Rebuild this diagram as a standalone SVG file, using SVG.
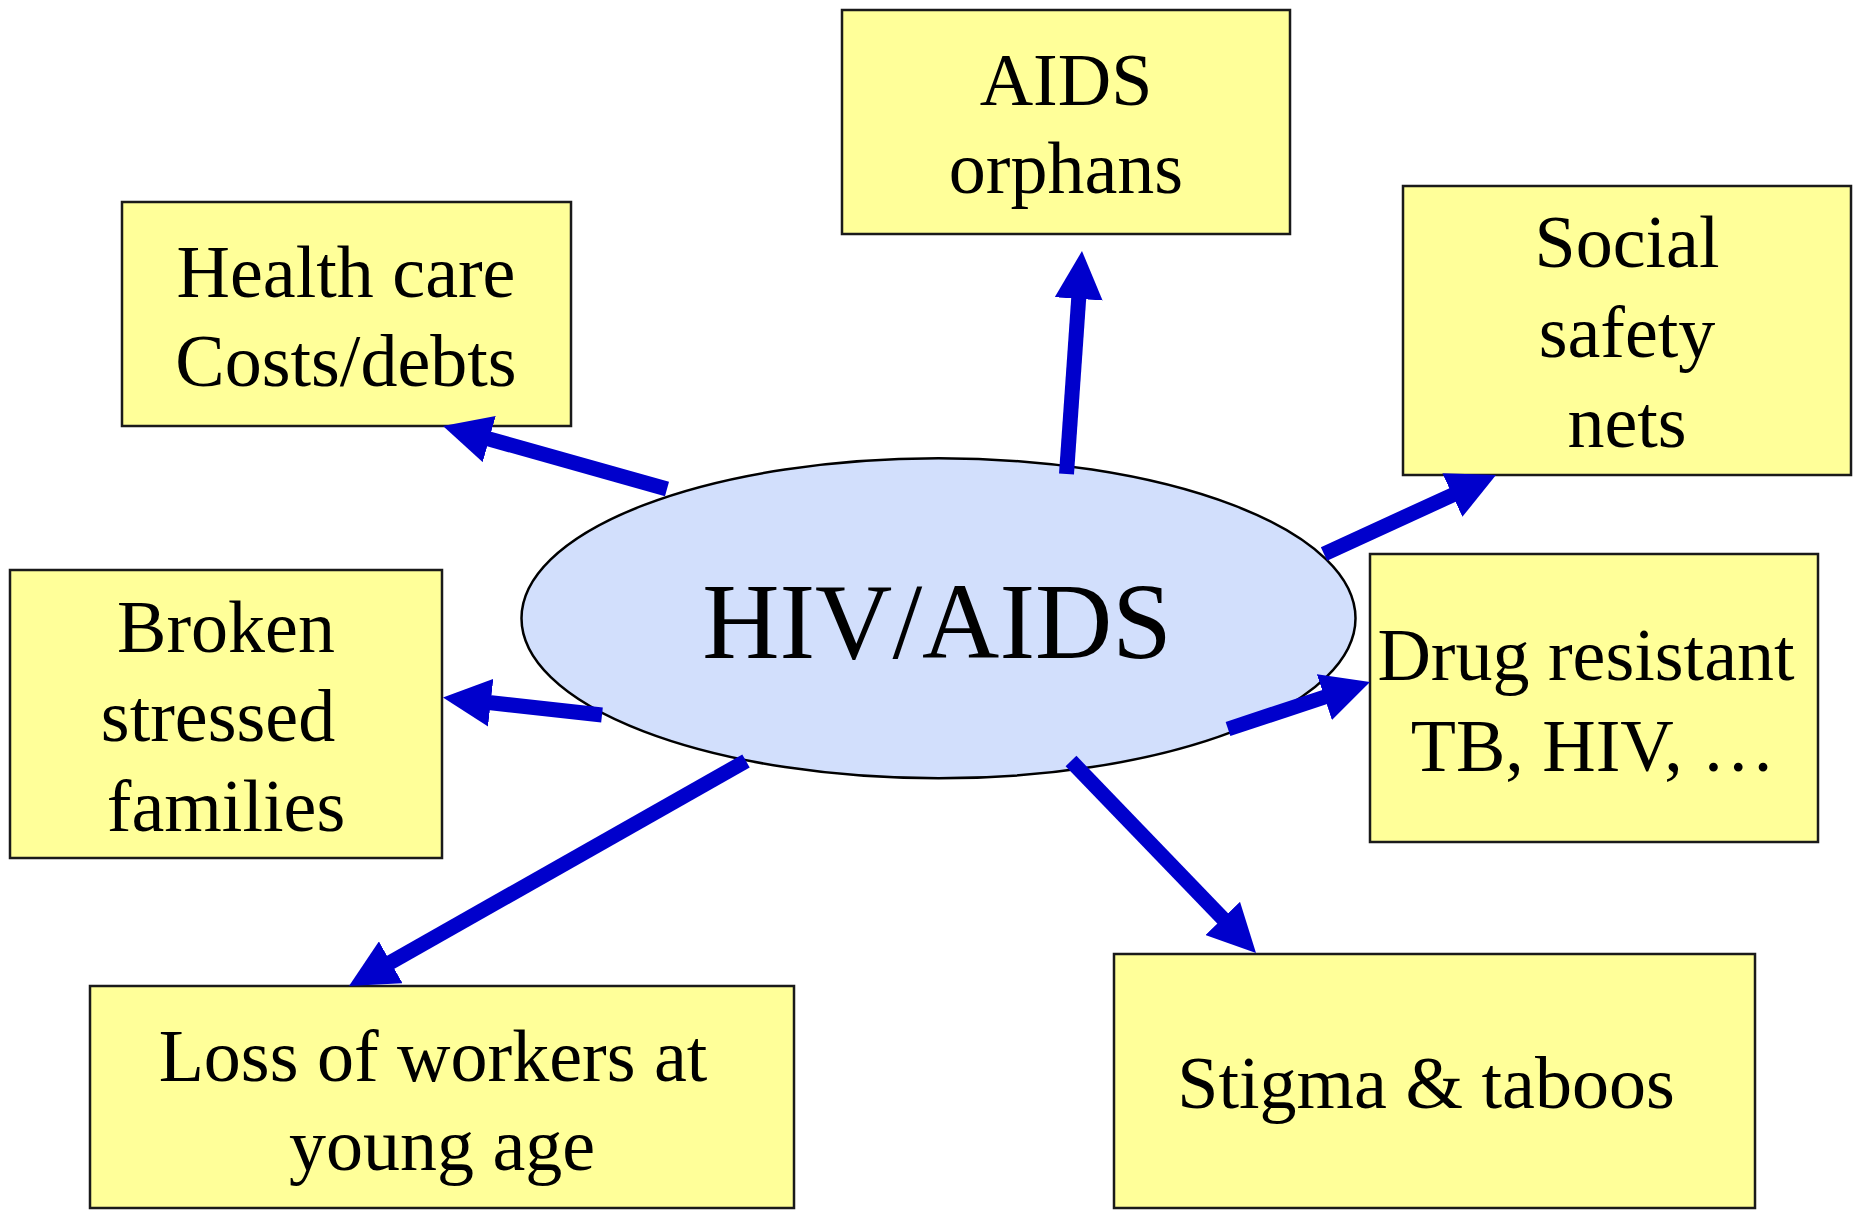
<svg xmlns="http://www.w3.org/2000/svg" width="1854" height="1210" viewBox="0 0 1854 1210">
<defs>
<marker id="ah" markerUnits="userSpaceOnUse" markerWidth="48" markerHeight="48" viewBox="0 0 48 48" refX="2" refY="24" orient="auto">
<path d="M0,0 L48,24 L0,48 z" fill="#0000CC"/>
</marker>
<style>
.box{fill:#FFFF99;stroke:#1a1a1a;stroke-width:2.5}
.t{font-family:"Liberation Serif","Times New Roman",serif;font-size:74px;fill:#000;text-anchor:middle}
.big{font-family:"Liberation Serif","Times New Roman",serif;font-size:107px;fill:#000;text-anchor:middle}
.arr{stroke:#0000CC;stroke-width:15;stroke-linecap:butt;fill:none;marker-end:url(#ah)}
</style>
</defs>
<rect width="1854" height="1210" fill="#fff"/>
<g id="orphans"><rect class="box" x="842" y="10" width="448" height="224"/><text class="t" x="1066" y="105">AIDS</text><text class="t" x="1066" y="193">orphans</text></g>
<g id="health"><rect class="box" x="122" y="202" width="449" height="224"/><text class="t" x="346" y="297">Health care</text><text class="t" x="346" y="386">Costs/debts</text></g>
<g id="social"><rect class="box" x="1403" y="186" width="448" height="289"/><text class="t" x="1627" y="267">Social</text><text class="t" x="1627" y="357">safety</text><text class="t" x="1627" y="447">nets</text></g>
<g id="broken"><rect class="box" x="10" y="570" width="432" height="288"/><text class="t" x="226" y="652">Broken</text><text class="t" x="218" y="741">stressed</text><text class="t" x="226" y="831">families</text></g>
<g id="drug"><rect class="box" x="1370" y="554" width="448" height="288"/><text class="t" x="1586" y="680">Drug resistant</text><text class="t" x="1593" y="771">TB, HIV, …</text></g>
<g id="loss"><rect class="box" x="90" y="986" width="704" height="222"/><text class="t" x="433" y="1081">Loss of workers at</text><text class="t" x="442" y="1170">young age</text></g>
<g id="stigma"><rect class="box" x="1114" y="954" width="641" height="254"/><text class="t" x="1426" y="1108">Stigma &amp; taboos</text></g>
<g id="hiv"><ellipse cx="938.5" cy="618.3" rx="417" ry="160" fill="#D2DFFC" stroke="#000" stroke-width="2.5"/><text class="big" x="937" y="658">HIV/AIDS</text></g>
<g id="connectors">
<line class="arr" x1="667" y1="489" x2="487.3" y2="438.5"/>
<line class="arr" x1="1066.5" y1="474" x2="1078.8" y2="296.9"/>
<line class="arr" x1="1324" y1="554" x2="1454.2" y2="494.2"/>
<line class="arr" x1="1228" y1="729" x2="1326.3" y2="696.5"/>
<line class="arr" x1="602" y1="715" x2="488.7" y2="702.5"/>
<line class="arr" x1="746" y1="761" x2="389" y2="963.3"/>
<line class="arr" x1="1071" y1="761" x2="1224.1" y2="919.9"/>
</g>
</svg>
